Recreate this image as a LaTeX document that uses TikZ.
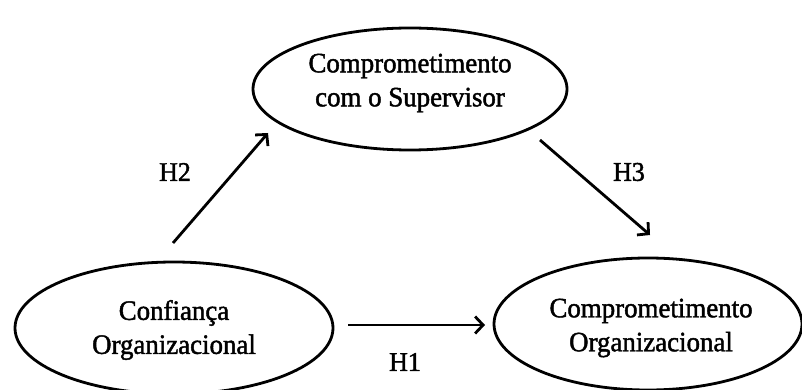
\documentclass[tikz,border=0pt]{standalone}
\usepackage{fontspec}
\setmainfont{Liberation Serif}
\newfontfamily\diagfont[FakeStretch=0.96,FakeBold=1.6]{Liberation Serif}
\usetikzlibrary{shapes.geometric,arrows.meta}
\begin{document}
\begin{tikzpicture}[x=1pt,y=-1pt,
  construct/.style={ellipse, draw=black, line width=2.8pt, inner sep=0pt},
  caption/.style={font=\diagfont\fontsize{28}{34}\selectfont, align=center, inner sep=0pt},
  path/.style={line width=2.8pt, -{Straight Barb[length=8pt,width=17pt,line width=2.8pt]}},
  hyp/.style={font=\diagfont\fontsize{27}{30}\selectfont, inner sep=0pt}]
  \useasboundingbox (0,0) rectangle (802,390);

  % latent constructs, captions set slightly off the geometric centre
  \node[construct, minimum width=314pt, minimum height=122pt,
    label={[caption, yshift=6pt]center:Comprometimento\\com o Supervisor}] (sup) at (410,89) {};
  \node[construct, minimum width=318pt, minimum height=132pt,
    label={[caption, yshift=-2pt]center:Confiança\\Organizacional}] (conf) at (174,328) {};
  \node[construct, minimum width=308pt, minimum height=132pt,
    label={[caption, yshift=-4pt, xshift=3pt]center:Comprometimento\\Organizacional}] (org) at (648,324) {};

  % arrow end points
  \coordinate (h2a) at (173,243);
  \coordinate (h2b) at (268,133);
  \coordinate (h3a) at (540,140);
  \coordinate (h3b) at (650,235);
  \coordinate (h1a) at (348,325);
  \coordinate (h1b) at (485,325);

  % hypothesised paths
  \draw[path] (h2a) -- (h2b);
  \draw[path] (h3a) -- (h3b);
  \draw[path] (h1a) -- (h1b);

  % hypothesis labels
  \node[hyp] (lh2) at (175,172) {H2};
  \node[hyp] (lh3) at (629,172) {H3};
  \node[hyp] (lh1) at (405,362) {H1};
\end{tikzpicture}
\end{document}
